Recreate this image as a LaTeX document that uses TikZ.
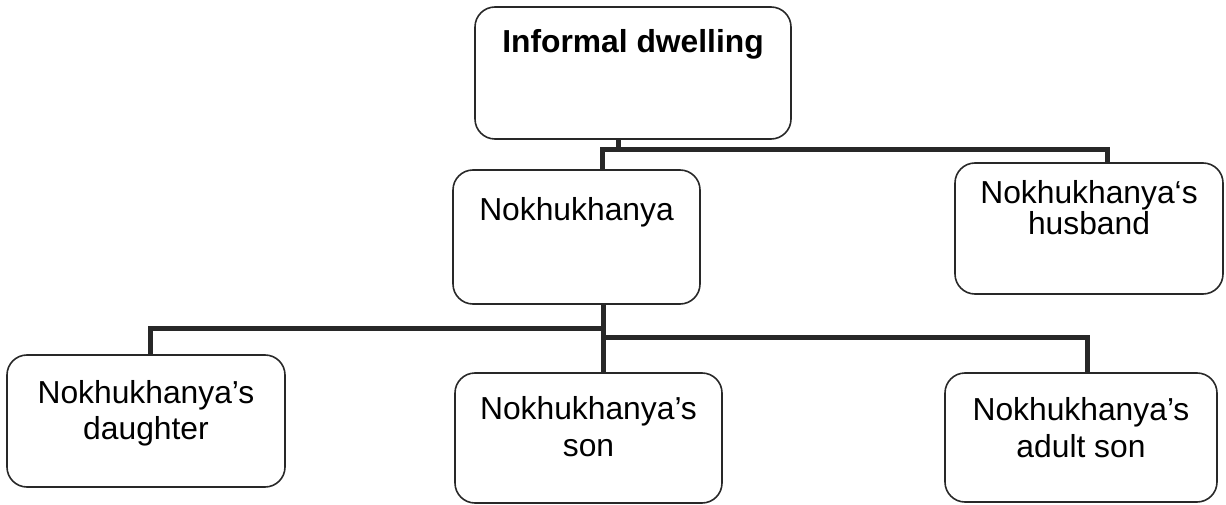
\documentclass[tikz,border=0pt]{standalone}
\usepackage{fontspec}
\setmainfont{Liberation Sans}
\definecolor{ink}{RGB}{40,40,40}
\definecolor{wirecol}{RGB}{40,40,40}
\newcommand{\boxcontent}[5]{\parbox[c][#2pt][t]{#1pt}{\centering\fontsize{31.8pt}{#4pt}\selectfont\lineskiplimit=-100pt\rule{0pt}{#3pt}#5}}
\tikzset{
  fambox/.style={draw=ink, line width=1.6pt, rounded corners=20pt, inner sep=0pt, outer sep=0pt, anchor=north west},
  wire/.style={draw=wirecol, line width=5pt},
}
\begin{document}
\begin{tikzpicture}[x=1pt,y=-1pt]
\useasboundingbox (0,0) rectangle (1226,505);
% boxes
\node[fambox] (top) at (475,7) {\boxcontent{316}{132}{46}{37}{\textbf{Informal dwelling}}};
\node[fambox] (nok) at (453,170) {\boxcontent{247}{134}{51}{37}{Nokhukhanya}};
\node[fambox] (hus) at (955,163) {\boxcontent{268}{131}{40}{32}{Nokhukhanya‘s\\husband}};
\node[fambox] (dau) at (7,355) {\boxcontent{278}{132}{48}{36}{Nokhukhanya’s\\daughter}};
\node[fambox] (son) at (455,373) {\boxcontent{267}{130}{46}{37}{Nokhukhanya’s\\son}};
\node[fambox] (adu) at (945,373) {\boxcontent{272}{129}{47}{37}{Nokhukhanya’s\\adult son}};
% junctions
\coordinate (t1) at (618,150);
\coordinate (n1) at (602,150);
\coordinate (h1) at (1107,150);
\coordinate (b1) at (603,328);
\coordinate (b2) at (603,337);
\coordinate (d1) at (150,328);
\coordinate (a1) at (1087,337);
% connectors
\draw[wire] (top.south -| t1) -- (t1);
\draw[wire] (nok.north -| n1) -- (n1) -- (h1) -- (h1 |- hus.north);
\draw[wire] (nok.south -| b1) -- (b1 |- son.north);
\draw[wire] (dau.north -| d1) -- (d1) -- (b1);
\draw[wire] (b2) -- (a1) -- (a1 |- adu.north);
\end{tikzpicture}
\end{document}
